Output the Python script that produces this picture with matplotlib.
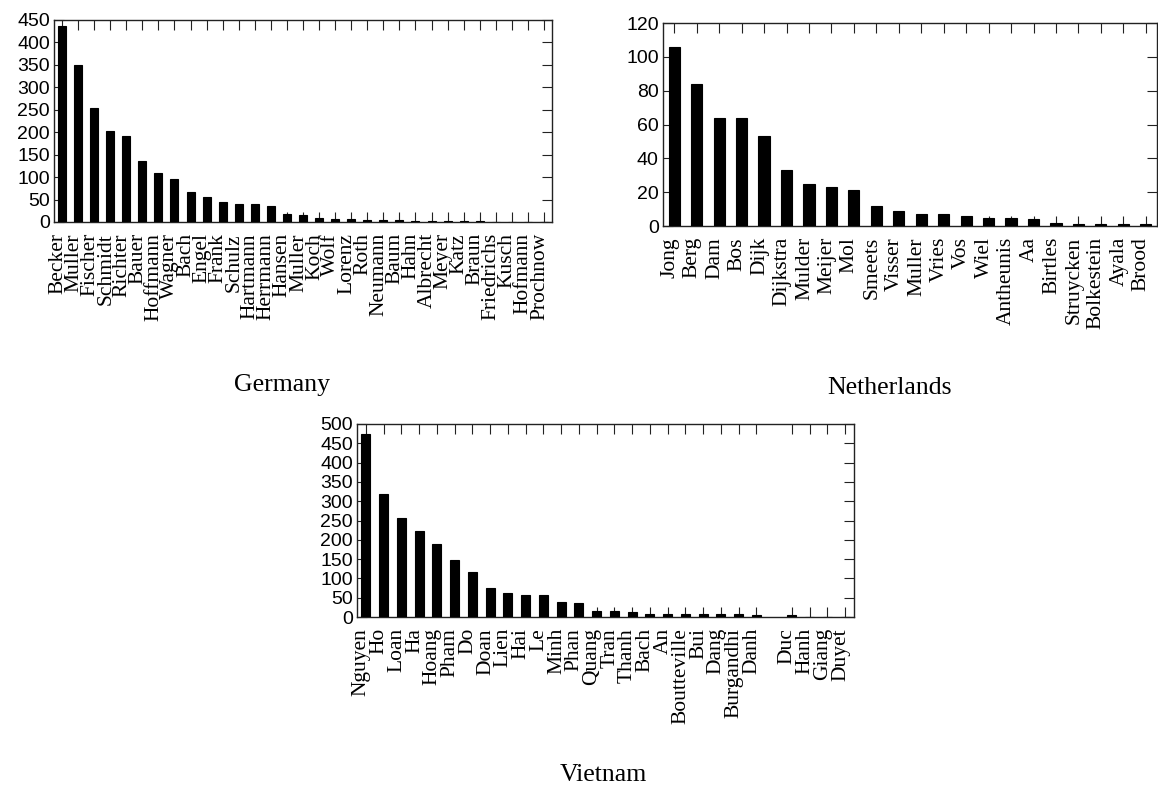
import matplotlib
matplotlib.use("Agg")
import matplotlib.pyplot as plt
import numpy as np

# surname counts per country
germany_names = ["Becker", "Muller", "Fischer", "Schmidt", "Richter", "Bauer", "Hoffmann",
                 "Wagner", "Bach", "Engel", "Frank", "Schulz", "Hartmann", "Herrmann",
                 "Hansen", "Muller", "Koch", "Wolf", "Lorenz", "Roth", "Neumann", "Baum",
                 "Hahn", "Albrecht", "Meyer", "Katz", "Braun", "Friedrichs", "Kusch",
                 "Hofmann", "Prochnow"]
germany_counts = [436, 350, 253, 203, 191, 136, 109, 96, 66, 55, 45, 41, 39, 35,
                  18, 16, 8, 7, 7, 5, 4, 4, 3, 3, 2, 2, 2, 1, 1, 1, 1]

nl_names = ["Jong", "Berg", "Dam", "Bos", "Dijk", "Dijkstra", "Mulder", "Meijer", "Mol",
            "Smeets", "Visser", "Muller", "Vries", "Vos", "Wiel", "Antheunis", "Aa",
            "Birtles", "Struycken", "Bolkestein", "Ayala", "Brood"]
nl_counts = [106, 84, 64, 64, 53, 33, 25, 23, 21, 12, 9, 7, 7, 6, 5, 5, 4, 2, 1, 1, 1, 1]

# empty slot = name that came out blank in the export
vn_names = ["Nguyen", "Ho", "Loan", "Ha", "Hoang", "Pham", "Do", "Doan", "Lien", "Hai",
            "Le", "Minh", "Phan", "Quang", "Tran", "Thanh", "Bach", "An", "Boutteville",
            "Bui", "Dang", "Burgandhi", "Danh", "", "Duc", "Hanh", "Giang", "Duyet"]
vn_counts = [475, 318, 256, 223, 189, 148, 116, 75, 62, 56, 56, 40, 36, 16, 15, 14,
             9, 9, 8, 8, 7, 7, 5, 0, 4, 1, 1, 1]

W, H = 1158, 787
fig = plt.figure(figsize=(W / 100, H / 100), dpi=100)


def panel(rect, names, counts, ymax, ystep, title, title_xy):
    l, t, r, b = rect
    ax = fig.add_axes([l / W, 1 - b / H, (r - l) / W, (b - t) / H])
    names = np.array(names)
    counts = np.array(counts, dtype=float)
    x = np.arange(len(names))
    keep = names != ""
    ax.bar(x[keep], counts[keep], width=0.5, color="black", edgecolor="black",
           linewidth=0.8, zorder=3)
    ax.set_xlim(-0.5, len(names) - 0.5)
    ax.set_ylim(0, ymax)
    ax.set_yticks(np.arange(0, ymax + 1, ystep))
    ax.set_xticks(x[keep])
    ax.set_xticklabels(names[keep], rotation=90, rotation_mode="anchor",
                       ha="right", va="baseline", family="Liberation Serif",
                       fontsize=15.5)
    for lab in ax.get_yticklabels():
        lab.set_family("Liberation Sans")
        lab.set_fontsize(14)
    ax.tick_params(axis="both", direction="in", length=7, width=0.8,
                   top=True, right=True, color="#222222")
    ax.tick_params(axis="x", pad=8)
    ax.tick_params(axis="y", pad=3)
    for s in ax.spines.values():
        s.set_linewidth(1.0)
        s.set_color("#222222")
    fig.text(title_xy[0] / W, 1 - title_xy[1] / H, title, ha="center", va="center",
             family="Liberation Serif", fontsize=18.5)
    return ax


panel((54, 20, 552, 222), germany_names, germany_counts, 450, 50, "Germany", (282, 385))
panel((663, 23, 1157, 226), nl_names, nl_counts, 120, 20, "Netherlands", (890, 388))
panel((357, 424, 854, 617), vn_names, vn_counts, 500, 50, "Vietnam", (603, 775))

fig.savefig("out.png", dpi=100)
